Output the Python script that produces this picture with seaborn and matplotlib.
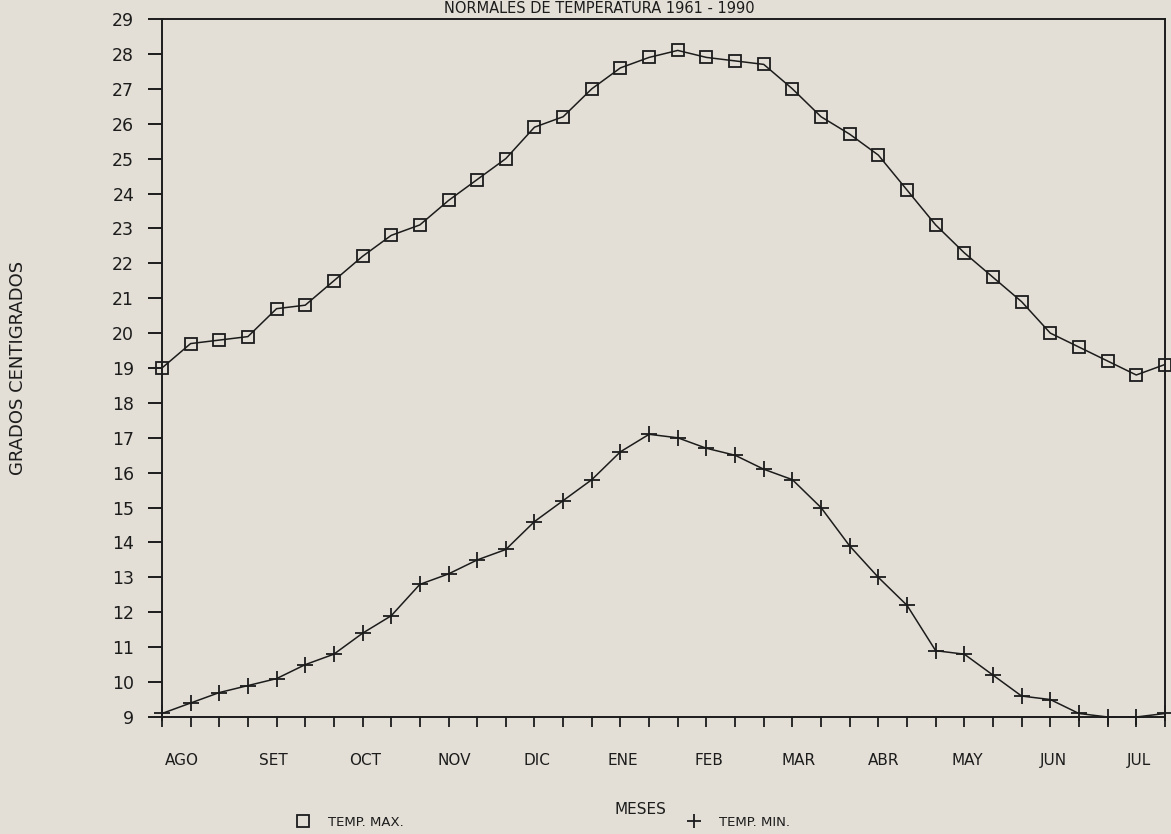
import matplotlib
matplotlib.use("Agg")
import matplotlib.pyplot as plt
from matplotlib.lines import Line2D
import numpy as np
import pandas as pd
import seaborn as sns

# Ten-day (decade) normals, August to July
decade_index = list(range(36))
temp_max = [19.0, 19.7, 19.8, 19.9, 20.7, 20.8, 21.5, 22.2, 22.8, 23.1, 23.8, 24.4,
            25.0, 25.9, 26.2, 27.0, 27.6, 27.9, 28.1, 27.9, 27.8, 27.7, 27.0, 26.2,
            25.7, 25.1, 24.1, 23.1, 22.3, 21.6, 20.9, 20.0, 19.6, 19.2, 18.8, 19.1]
temp_min = [9.1, 9.4, 9.7, 9.9, 10.1, 10.5, 10.8, 11.4, 11.9, 12.8, 13.1, 13.5,
            13.8, 14.6, 15.2, 15.8, 16.6, 17.1, 17.0, 16.7, 16.5, 16.1, 15.8, 15.0,
            13.9, 13.0, 12.2, 10.9, 10.8, 10.2, 9.6, 9.5, 9.1, 9.0, 9.0, 9.1]
month_labels = ["AGO", "SET", "OCT", "NOV", "DIC", "ENE",
                "FEB", "MAR", "ABR", "MAY", "JUN", "JUL"]
month_positions = [0.7, 3.9, 7.1, 10.2, 13.1, 16.1, 19.1, 22.2, 25.2, 28.1, 31.1, 34.1]
y_ticks = list(range(9, 30))

title_text = "NORMALES DE TEMPERATURA 1961 - 1990"
series_names = ["TEMP. MAX.", "TEMP. MIN."]

paper = "#e3dfd6"
ink = "#1c1c1c"

df = pd.DataFrame({"decada": decade_index, "tmax": temp_max, "tmin": temp_min})

sns.set_theme(style="white")
plt.rcParams["font.family"] = ["DejaVu Sans"]

fig = plt.figure(figsize=(11.71, 8.34), dpi=100, facecolor=paper)
ax = fig.add_axes([0.1383, 0.1403, 0.8565, 0.8369])
ax.set_facecolor(paper)

sns.lineplot(data=df, x="decada", y="tmax", ax=ax, color=ink, linewidth=1.1,
             marker="s", markersize=9, mfc="none", mec=ink, mew=1.3, clip_on=False)
sns.lineplot(data=df, x="decada", y="tmin", ax=ax, color=ink, linewidth=1.1,
             marker="+", markersize=11, mec=ink, mew=1.3, clip_on=False)

ax.set_xlim(0, 35)
ax.set_ylim(9, 29)

for side in ["left", "right", "top", "bottom"]:
    ax.spines[side].set_visible(True)
    ax.spines[side].set_color(ink)
    ax.spines[side].set_linewidth(1.4)

ax.set_yticks(y_ticks)
ax.set_yticklabels([str(v) for v in y_ticks])
ax.tick_params(axis="y", direction="out", length=10, width=1.4, color=ink,
               pad=10, labelsize=12.5, labelcolor=ink, left=True)

ax.set_xticks(decade_index, minor=True)
ax.set_xticks(month_positions)
ax.set_xticklabels(month_labels)
ax.tick_params(axis="x", which="minor", direction="out", length=7, width=1.3,
               color=ink, bottom=True)
ax.tick_params(axis="x", which="major", length=0, pad=26, labelsize=11,
               labelcolor=ink, bottom=True)

ax.set_ylabel("GRADOS CENTIGRADOS", fontsize=13, color=ink)
ax.yaxis.set_label_coords(-0.1346, 0.5)
ax.set_xlabel("MESES", fontsize=11, color=ink)
ax.xaxis.set_label_coords(0.477, -0.122)

fig.text(0.512, 0.999, title_text, ha="center", va="top",
         fontsize=10.5, color=ink)

handles = [
    Line2D([], [], linestyle="none", marker="s", markersize=8, mfc="none",
           mec=ink, mew=1.3),
    Line2D([], [], linestyle="none", marker="+", markersize=10, mec=ink, mew=1.3),
]
fig.legend(handles, series_names, loc="center left", ncol=2,
           bbox_to_anchor=(0.243, 0.014), frameon=False, fontsize=9.5,
           labelcolor=ink, handlelength=1.0, handletextpad=1.4,
           columnspacing=21.5)

fig.savefig("out.png", dpi=100, facecolor=paper)
